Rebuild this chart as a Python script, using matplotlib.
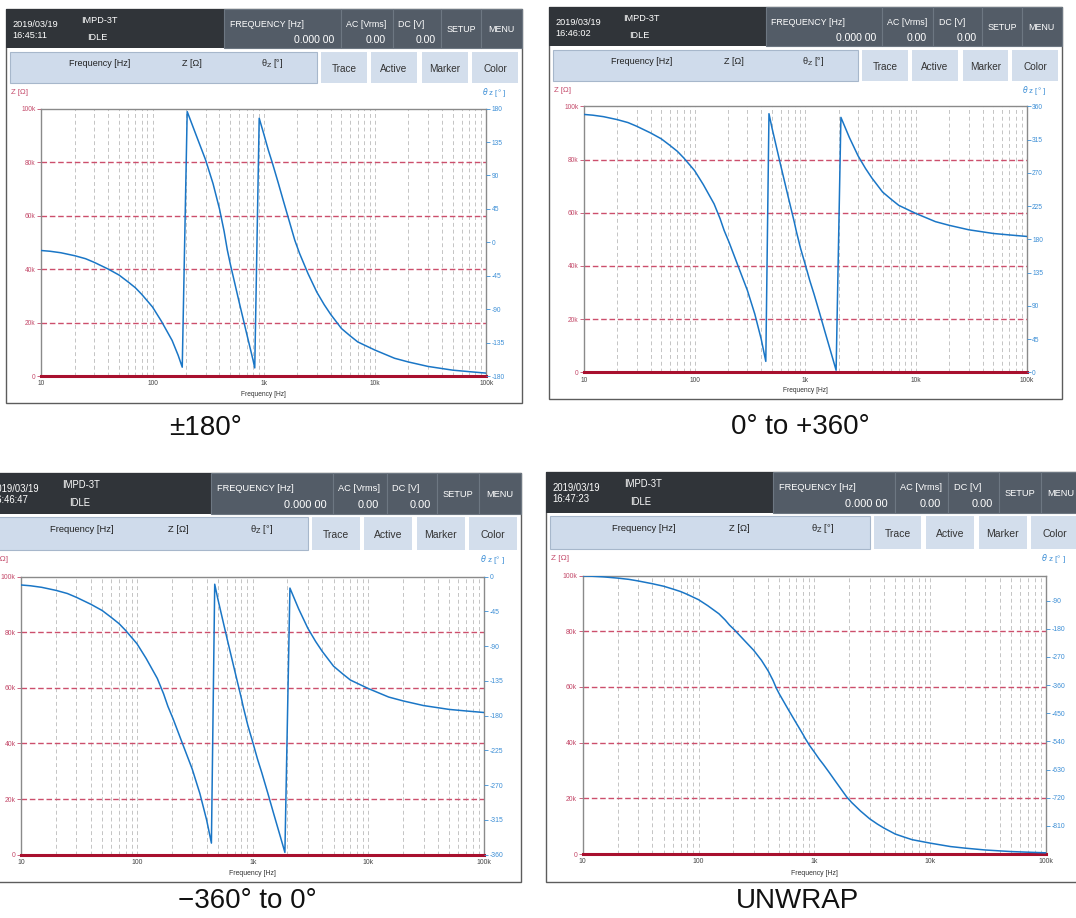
import numpy as np
import matplotlib.pyplot as plt
from matplotlib.patches import Rectangle
from matplotlib.ticker import NullLocator

plt.rcParams['font.family'] = ['Liberation Sans', 'DejaVu Sans']

W, H = 1076, 918

freq_hz = [10, 12, 15, 20, 25, 30, 40, 50, 60, 70,
           80, 100, 120, 150, 170, 185, 205, 250, 300, 350,
           400, 440, 470, 500, 600, 700, 800, 830, 910, 1000,
           1100, 1200, 1350, 1500, 1700, 1900, 2100, 2500, 3000, 3500,
           4000, 5000, 6000, 7000, 8500, 10000, 15000, 20000, 30000, 50000,
           70000, 100000]
phase_deg = [-11, -12, -14, -18, -22, -27, -36, -44, -53, -61,
             -70, -87, -106, -132, -152, -168, -184, -218, -249, -281,
             -315, -345, -370, -389, -440, -482, -518, -529, -553, -574,
             -596, -614, -640, -664, -692, -717, -735, -762, -787, -804,
             -817, -836, -846, -854, -860, -865, -876, -881, -887, -892,
             -894, -896]
# Z trace stays at 0 ohm over the sweep
z_ohm = [0] * len(freq_hz)

z_ticks = [0, 20e3, 40e3, 60e3, 80e3, 100e3]
z_labels = ['0', '20k', '40k', '60k', '80k', '100k']
f_ticks = [10, 100, 1e3, 1e4, 1e5]
f_labels = ['10', '100', '1k', '10k', '100k']

clocks = ['16:45:11', '16:46:02', '16:46:47', '16:47:23']
captions = ['±180°', '0° to +360°', '−360° to 0°', 'UNWRAP']
modes = ['pm180', '0_360', 'm360_0', 'unwrap']

# right axis range and ticks for each phase display mode
theta_axis = {
    'pm180': (-180, 180, list(range(-180, 181, 45))),
    '0_360': (0, 360, list(range(0, 361, 45))),
    'm360_0': (-360, 0, list(range(-360, 1, 45))),
    'unwrap': (-900, -10, list(range(-810, -89, 90))),
}

# panel origin (px), scale, caption position
layout = [(6.2, 8.6, 1.0, 206, 435),
          (549.0, 6.8, 0.995, 800, 434.5),
          (-15.2, 472.5, 1.04, 247, 908),
          (546.2, 471.5, 1.041, 798, 908)]

RED = '#c44a6a'
BLUE = '#3d8fd6'


def wrap(theta, mode):
    theta = np.asarray(theta, float)
    if mode == 'pm180':
        return (theta + 180) % 360 - 180
    if mode == '0_360':
        return theta % 360
    if mode == 'm360_0':
        return theta % 360 - 360
    return theta


fig = plt.figure(figsize=(W / 100, H / 100), dpi=100)
bg = fig.add_axes([0, 0, 1, 1])
bg.set_xlim(0, W)
bg.set_ylim(H, 0)
bg.axis('off')


def draw_panel(ox, oy, s, clock, mode, caption, cap_x, cap_y):
    def px(x, y):
        return ox + x * s, oy + y * s

    def box(x0, y0, x1, y1, fc, ec='none', lw=0.0, z=1):
        x, y = px(x0, y0)
        bg.add_patch(Rectangle((x, y), (x1 - x0) * s, (y1 - y0) * s,
                               fc=fc, ec=ec, lw=lw, zorder=z))

    def txt(x, y, t, size, color='white', ha='left', va='center'):
        xx, yy = px(x, y)
        bg.text(xx, yy, t, fontsize=size * s, color=color, ha=ha, va=va, zorder=5)

    # frame + header bar
    box(0, 0, 515.5, 394, 'white', '#5c5c5c', 1.0)
    box(0, 0, 515.5, 39.6, '#303439', z=2)
    for x0, x1 in [(217.6, 334.8), (334.8, 386.4), (386.4, 435.2),
                   (435.2, 475.2), (475.2, 515.5)]:
        box(x0, 0, x1, 39.6, '#535c67', '#6d7782', 0.8, z=3)
    txt(6.2, 15.5, '2019/03/19', 6.6)
    txt(6.2, 26.5, clock, 6.6)
    txt(74.7, 12.1, 'IMPD-3T', 6.6)
    txt(80.9, 29.3, 'IDLE', 6.6)
    txt(223.5, 15.5, 'FREQUENCY [Hz]', 6.4)
    txt(328.5, 31, '0.000 00', 7.6, ha='right')
    txt(339.9, 15.5, 'AC [Vrms]', 6.4)
    txt(379.5, 31, '0.00', 7.6, ha='right')
    txt(391.5, 15.5, 'DC [V]', 6.4)
    txt(429.4, 31, '0.00', 7.6, ha='right')
    txt(455.2, 20.7, 'SETUP', 6.4, ha='center')
    txt(494.8, 20.7, 'MENU', 6.4, ha='center')

    # button row
    box(4.1, 43.1, 310.6, 74.7, '#cfdbeb', '#a7b7cb', 0.8, z=2)
    txt(93.3, 55.1, 'Frequency [Hz]', 6.5, '#222', 'center')
    txt(185.6, 55.1, 'Z [Ω]', 6.5, '#222', 'center')
    txt(265.8, 55.1, r'θ$_{\rm Z}$ [°]', 6.5, '#222', 'center')
    for x0, x1, lab in [(314.8, 360.5, 'Trace'), (364.8, 410.8, 'Active'),
                        (415.6, 461.4, 'Marker'), (465.6, 511.8, 'Color')]:
        box(x0, 43.1, x1, 74.7, '#d3deec', z=2)
        txt((x0 + x1) / 2, 60.3, lab, 7.2, '#333', 'center')

    txt(4.8, 83.7, 'Z [Ω]', 5.6, RED)
    txt(499.8, 83.7, r'$\theta$ z [° ]', 5.6, BLUE, ha='right')
    txt((35.1 + 480) / 2, 385.8, 'Frequency [Hz]', 4.8, '#333', 'center')

    bg.text(cap_x, cap_y, caption, fontsize=20, ha='center', va='baseline', color='#111')

    # graph area
    x0, y0 = px(35.1, 100)
    x1, y1 = px(480, 367.5)
    ax = fig.add_axes([x0 / W, 1 - y1 / H, (x1 - x0) / W, (y1 - y0) / H])
    ax.set_xscale('log')
    ax.set_xlim(10, 1e5)
    ax.set_ylim(0, 1e5)
    for dec in [10, 100, 1000, 10000]:
        for m in range(2, 11):
            if dec * m < 1e5:
                ax.axvline(dec * m, color='#c4c4c4', lw=0.7, ls=(0, (4, 3)), zorder=1)
    for z in z_ticks[1:-1]:
        ax.axhline(z, color='#cc4f6c', lw=1.0, ls=(0, (4, 2)), zorder=2)
    ax.plot(freq_hz, z_ohm, color='#a8102e', lw=2.2, clip_on=False, zorder=4)

    ax.set_xticks(f_ticks, labels=f_labels)
    ax.xaxis.set_minor_locator(NullLocator())
    ax.set_yticks(z_ticks, labels=z_labels)
    ax.tick_params(axis='x', labelsize=4.8 * s, colors='#444', length=0, pad=3)
    ax.tick_params(axis='y', labelsize=4.8 * s, colors=RED, length=3, width=0.6, pad=1)
    for side in ['left', 'top', 'right', 'bottom']:
        ax.spines[side].set_color('#8a8a8a')
        ax.spines[side].set_linewidth(1.0)

    lo, hi, ticks = theta_axis[mode]
    ax2 = ax.twinx()
    ax2.plot(freq_hz, wrap(phase_deg, mode), color='#1a76c6', lw=1.1, zorder=5)
    ax2.set_xlim(10, 1e5)
    ax2.set_ylim(lo, hi)
    ax2.set_yticks(ticks, labels=[str(t) for t in ticks])
    ax2.yaxis.set_minor_locator(NullLocator())
    ax2.tick_params(axis='y', labelsize=4.8 * s, colors=BLUE, length=3, width=0.6, pad=1)
    for side in ['left', 'top', 'right', 'bottom']:
        ax2.spines[side].set_visible(False)


for i in range(4):
    ox, oy, s, cx, cy = layout[i]
    draw_panel(ox, oy, s, clocks[i], modes[i], captions[i], cx, cy)

fig.savefig('out.png', dpi=100)
